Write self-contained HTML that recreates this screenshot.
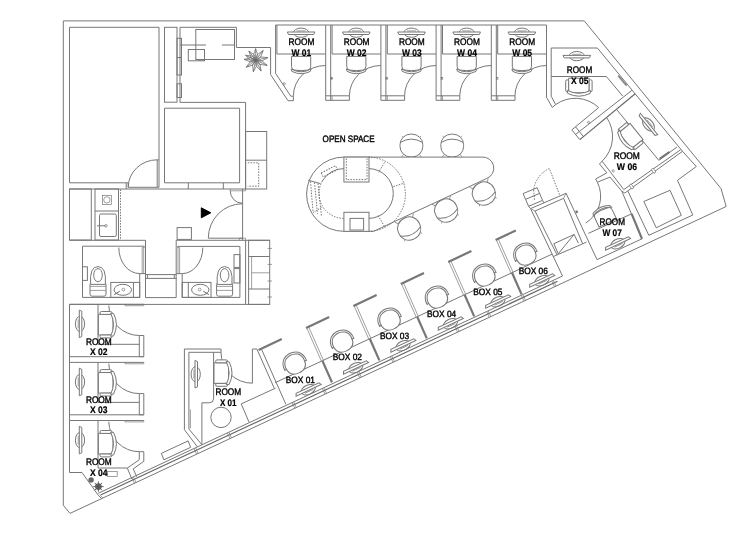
<!DOCTYPE html>
<html lang="en"><head><meta charset="utf-8"><title>Floor plan</title>
<style>
html,body{margin:0;padding:0;background:#fff}
body{width:747px;height:535px;overflow:hidden}
svg{display:block;filter:grayscale(1)}
svg *{vector-effect:none}
g#plan{fill:none;stroke:#777;stroke-width:1;stroke-linecap:butt;stroke-linejoin:miter}
.t{stroke-width:.7}
.w{fill:#fff}
.d{stroke:#666;stroke-dasharray:1.5 1.3;stroke-width:.9}
.k{fill:#000;stroke:#000}
.g{fill:#666;stroke:none}
.gs{stroke:#555;stroke-width:.9}
.pl{stroke:#6a6a6a;stroke-width:.7}
.mark{stroke:#888;stroke-width:1.8}
.bar{stroke:#777;stroke-width:2.2}
.thick{stroke:#777;stroke-width:2.2}
.mid{stroke:#666;stroke-width:1.15}
text{font-family:"Liberation Sans",sans-serif;fill:#000;stroke:#000;stroke-width:.4;text-rendering:geometricPrecision}
text.b{font-weight:bold;fill:#000;stroke:#000;stroke-width:.2}
</style></head><body>
<svg width="747" height="535" viewBox="0 0 747 535">
<rect x="0" y="0" width="747" height="535" fill="#fff" stroke="none"/>
<g id="plan">
<g id="shell">
<path d="M63.3,20.9 L584.3,20.9 L721,188.5 L726.2,206.5 L70,513.4 L63.3,505.2 Z"/>
</g>
<g id="left">
<path d="M128.2,182.8 H69.5 V27.3 H159 V187.3"/>
<line x1="157.2" y1="159.8" x2="157.2" y2="187.3"/>
<line x1="157.2" y1="159.8" x2="159" y2="159.8"/>
<path d="M157.2,159.8 A29,27.5 0 0 0 128.2,187.3"/>
<path d="M126.2,182.8 V189 M128.2,182.8 V187.3 H159"/>
<line x1="69.5" y1="189" x2="245.6" y2="189"/>
<rect x="164.5" y="27.3" width="12.5" height="74.9"/>
<path d="M180,27.3 V102.4 H245.6 V189"/>
<path d="M180,27.3 H236.4 V47.5 H270.6 V74.6 L288,100.7 H293.4"/>
<rect x="177" y="38.3" width="4.5" height="36.7"/>
<line x1="177" y1="57.5" x2="181.5" y2="57.5"/>
<rect x="177" y="83.8" width="4.5" height="13.7"/>
<path d="M164.5,108.2 H239.6 V182.8 H164.5 Z"/>
<line x1="188.3" y1="182.8" x2="188.3" y2="189"/>
<line x1="223.3" y1="182.8" x2="223.3" y2="189"/>
<rect x="195.8" y="29.5" width="38.7" height="30"/>
<path d="M180,45 H206 M222,45 H234.5"/>
<rect x="188.3" y="49.5" width="16.2" height="11.3"/>
<line x1="198" y1="60" x2="204" y2="60" class="t"/>
<rect x="245.6" y="131.5" width="21.1" height="57.5"/>
<line x1="245.6" y1="160.2" x2="266.7" y2="160.2"/>
<path d="M247.8,162.8 H258.7 V186.2 H247.8" class="d"/>
</g>
<g transform="translate(255.6,60.2)" class="pl">
<path transform="rotate(-90)" d="M0,0 L4.87,-2.2 L11.6,0 L4.87,2.2 Z M0,0 H11.6"/>
<path transform="rotate(-52)" d="M0,0 L5.17,-2.2 L12.3,0 L5.17,2.2 Z M0,0 H12.3"/>
<path transform="rotate(-12)" d="M0,0 L5.29,-2.2 L12.6,0 L5.29,2.2 Z M0,0 H12.6"/>
<path transform="rotate(24)" d="M0,0 L5.33,-2.2 L12.7,0 L5.33,2.2 Z M0,0 H12.7"/>
<path transform="rotate(63)" d="M0,0 L5.12,-2.2 L12.2,0 L5.12,2.2 Z M0,0 H12.2"/>
<path transform="rotate(101)" d="M0,0 L4.96,-2.2 L11.8,0 L4.96,2.2 Z M0,0 H11.8"/>
<path transform="rotate(143)" d="M0,0 L4.91,-2.2 L11.7,0 L4.91,2.2 Z M0,0 H11.7"/>
<path transform="rotate(184)" d="M0,0 L4.87,-2.2 L11.6,0 L4.87,2.2 Z M0,0 H11.6"/>
<path transform="rotate(-154)" d="M0,0 L4.7,-2.2 L11.2,0 L4.7,2.2 Z M0,0 H11.2"/>
<path transform="rotate(-126)" d="M0,0 L4.79,-2.2 L11.4,0 L4.79,2.2 Z M0,0 H11.4"/>
</g>
<g id="wrooms">
<line x1="275.6" y1="25" x2="546.5" y2="25"/>
<path d="M275.6,25 V73.4 L290.8,96.2 H293.4 V100.7"/>
<g transform="translate(283.6,84.2) rotate(56)"><rect x="-1" y="-1.6" width="2" height="1.6" class="t"/></g>
<path d="M276.9,25 V54 H325.7"/>
<path d="M325.7,65.5 A32.3,30.3 0 0 0 293.4,95.8"/>
<g transform="translate(301.1,64.8) rotate(0)">
<path d="M-9.6,-8.4 H9.6 V1.5 Q9.6,5 6.5,5.3 Q0,6.3 -6.5,5.3 Q-9.6,5 -9.6,1.5 Z" class="w"/>
<path d="M-10,4.2 Q0,9.8 10,4.2 L9.2,6.6 Q0,11.2 -9.2,6.6 Z" class="w"/>
</g>
<g transform="translate(301.1,32.9) rotate(0)">
<ellipse cx="0" cy="-0.2" rx="7.6" ry="4.6"/>
<path d="M-13.8,-0.9 L13.8,-0.9 L12.6,1.6 L-12.6,1.6 Z" class="w"/>
<path d="M-4.5,-2 H4.5" class="t"/>
</g>
<text x="288.5" y="45.2" font-size="9.5" textLength="25.8" lengthAdjust="spacingAndGlyphs">ROOM</text>
<text x="291.5" y="55.6" font-size="9.5" textLength="19.8" lengthAdjust="spacingAndGlyphs" class="b">W 01</text>
<path d="M325.7,25 V100.3 H349.4 V95.8 H325.7"/>
<line x1="330.7" y1="25" x2="330.7" y2="100.3"/>
<line x1="332.1" y1="95.8" x2="332.1" y2="100.3" class="t"/>
<rect x="330.7" y="77.4" width="1.6" height="1.8" class="t"/>
<path d="M332.1,25 V54 H380.9"/>
<path d="M380.9,65.5 A31.5,30.3 0 0 0 349.4,95.8"/>
<g transform="translate(356.3,64.8) rotate(0)">
<path d="M-9.6,-8.4 H9.6 V1.5 Q9.6,5 6.5,5.3 Q0,6.3 -6.5,5.3 Q-9.6,5 -9.6,1.5 Z" class="w"/>
<path d="M-10,4.2 Q0,9.8 10,4.2 L9.2,6.6 Q0,11.2 -9.2,6.6 Z" class="w"/>
</g>
<g transform="translate(356.3,32.9) rotate(0)">
<ellipse cx="0" cy="-0.2" rx="7.6" ry="4.6"/>
<path d="M-13.8,-0.9 L13.8,-0.9 L12.6,1.6 L-12.6,1.6 Z" class="w"/>
<path d="M-4.5,-2 H4.5" class="t"/>
</g>
<text x="343.7" y="45.2" font-size="9.5" textLength="25.8" lengthAdjust="spacingAndGlyphs">ROOM</text>
<text x="346.7" y="55.6" font-size="9.5" textLength="19.8" lengthAdjust="spacingAndGlyphs" class="b">W 02</text>
<path d="M380.9,25 V100.3 H404.6 V95.8 H380.9"/>
<line x1="385.9" y1="25" x2="385.9" y2="100.3"/>
<line x1="387.3" y1="95.8" x2="387.3" y2="100.3" class="t"/>
<rect x="385.9" y="77.4" width="1.6" height="1.8" class="t"/>
<path d="M387.3,25 V54 H436.1"/>
<path d="M436.1,65.5 A31.5,30.3 0 0 0 404.6,95.8"/>
<g transform="translate(411.5,64.8) rotate(0)">
<path d="M-9.6,-8.4 H9.6 V1.5 Q9.6,5 6.5,5.3 Q0,6.3 -6.5,5.3 Q-9.6,5 -9.6,1.5 Z" class="w"/>
<path d="M-10,4.2 Q0,9.8 10,4.2 L9.2,6.6 Q0,11.2 -9.2,6.6 Z" class="w"/>
</g>
<g transform="translate(411.5,32.9) rotate(0)">
<ellipse cx="0" cy="-0.2" rx="7.6" ry="4.6"/>
<path d="M-13.8,-0.9 L13.8,-0.9 L12.6,1.6 L-12.6,1.6 Z" class="w"/>
<path d="M-4.5,-2 H4.5" class="t"/>
</g>
<text x="398.9" y="45.2" font-size="9.5" textLength="25.8" lengthAdjust="spacingAndGlyphs">ROOM</text>
<text x="401.9" y="55.6" font-size="9.5" textLength="19.8" lengthAdjust="spacingAndGlyphs" class="b">W 03</text>
<path d="M436.1,25 V100.3 H459.8 V95.8 H436.1"/>
<line x1="441.1" y1="25" x2="441.1" y2="100.3"/>
<line x1="442.5" y1="95.8" x2="442.5" y2="100.3" class="t"/>
<rect x="441.1" y="77.4" width="1.6" height="1.8" class="t"/>
<path d="M442.5,25 V54 H491.3"/>
<path d="M491.3,65.5 A31.5,30.3 0 0 0 459.8,95.8"/>
<g transform="translate(466.7,64.8) rotate(0)">
<path d="M-9.6,-8.4 H9.6 V1.5 Q9.6,5 6.5,5.3 Q0,6.3 -6.5,5.3 Q-9.6,5 -9.6,1.5 Z" class="w"/>
<path d="M-10,4.2 Q0,9.8 10,4.2 L9.2,6.6 Q0,11.2 -9.2,6.6 Z" class="w"/>
</g>
<g transform="translate(466.7,32.9) rotate(0)">
<ellipse cx="0" cy="-0.2" rx="7.6" ry="4.6"/>
<path d="M-13.8,-0.9 L13.8,-0.9 L12.6,1.6 L-12.6,1.6 Z" class="w"/>
<path d="M-4.5,-2 H4.5" class="t"/>
</g>
<text x="454.1" y="45.2" font-size="9.5" textLength="25.8" lengthAdjust="spacingAndGlyphs">ROOM</text>
<text x="457.1" y="55.6" font-size="9.5" textLength="19.8" lengthAdjust="spacingAndGlyphs" class="b">W 04</text>
<path d="M491.3,25 V100.3 H515 V95.8 H491.3"/>
<line x1="496.3" y1="25" x2="496.3" y2="100.3"/>
<line x1="497.7" y1="95.8" x2="497.7" y2="100.3" class="t"/>
<rect x="496.3" y="77.4" width="1.6" height="1.8" class="t"/>
<path d="M497.7,25 V54 H546.5"/>
<path d="M546.5,65.5 A31.5,30.3 0 0 0 515,95.8"/>
<g transform="translate(521.9,64.8) rotate(0)">
<path d="M-9.6,-8.4 H9.6 V1.5 Q9.6,5 6.5,5.3 Q0,6.3 -6.5,5.3 Q-9.6,5 -9.6,1.5 Z" class="w"/>
<path d="M-10,4.2 Q0,9.8 10,4.2 L9.2,6.6 Q0,11.2 -9.2,6.6 Z" class="w"/>
</g>
<g transform="translate(521.9,32.9) rotate(0)">
<ellipse cx="0" cy="-0.2" rx="7.6" ry="4.6"/>
<path d="M-13.8,-0.9 L13.8,-0.9 L12.6,1.6 L-12.6,1.6 Z" class="w"/>
<path d="M-4.5,-2 H4.5" class="t"/>
</g>
<text x="509.3" y="45.2" font-size="9.5" textLength="25.8" lengthAdjust="spacingAndGlyphs">ROOM</text>
<text x="512.3" y="55.6" font-size="9.5" textLength="19.8" lengthAdjust="spacingAndGlyphs" class="b">W 05</text>
<line x1="546.5" y1="25" x2="546.5" y2="97.3"/>
</g>
<g id="wet">
<rect x="69.5" y="189" width="21.8" height="51"/>
<rect x="95" y="189" width="23.5" height="51"/>
<line x1="95" y1="211" x2="118.5" y2="211"/>
<rect x="102.5" y="195.3" width="8.8" height="9.2" class="t"/>
<circle cx="106.9" cy="199.9" r="3.2" class="t"/>
<rect x="99.5" y="214" width="16.8" height="22.5" rx="1.5"/>
<path d="M97,225.8 H105.5"/>
<circle cx="106" cy="225.8" r="1.3" class="t"/>
<line x1="120.5" y1="189.5" x2="120.5" y2="240" class="d"/>
<path d="M69.5,240.3 H145.5 V297.6"/>
<path d="M144.3,246.2 H82.5 V297.4 H139.7 V273.6 H145.5"/>
<path d="M118.8,247.6 A20.9,26 0 0 0 139.7,273.6"/>
<path d="M144.3,246.2 V247.6 H142.2 V273.6 M143.7,247.6 V273.6" class="t"/>
<rect x="82.5" y="266.8" width="4.9" height="13.6"/>
<rect x="90" y="282.6" width="16" height="13.6" class="w" rx="2"/>
<line x1="90" y1="286.4" x2="106" y2="286.4" class="t"/>
<line x1="90" y1="290.4" x2="106" y2="290.4" class="t"/>
<path d="M90.6,284.4 Q89.4,266.4 98,266.6 Q106.6,266.4 105.4,284.4 Z" class="w"/>
<ellipse cx="98" cy="275.2" rx="4.3" ry="6.6"/>
<rect x="110.8" y="282.4" width="28.9" height="15"/>
<line x1="133.4" y1="282.4" x2="133.4" y2="297.4"/>
<ellipse cx="122.8" cy="289.8" rx="8.7" ry="5.5"/>
<circle cx="123.4" cy="289.6" r="1.4" class="t"/>
<path d="M119.8,291.2 L114.2,294.6" class="gs"/>
<path d="M145.5,274.6 H176.2 M145.5,278.4 H176.2 M145.5,297.6 H176.2 M147.4,274.6 V278.4 M174.3,274.6 V278.4"/>
<path d="M176.2,297.6 V240.3 H269.7"/>
<path d="M177.4,246.4 H239.9 V297.4 H182.2 V273.6 H176.2"/>
<path d="M202.8,247.6 A20.6,26 0 0 1 182.2,273.6"/>
<path d="M177.4,246.4 V247.6 H179.6 V273.6 M178,247.6 V273.6" class="t"/>
<rect x="234" y="254.6" width="5.9" height="12.8"/>
<rect x="234" y="268.6" width="5.9" height="14.4"/>
<rect x="216.6" y="282.6" width="16" height="13.6" class="w" rx="2"/>
<line x1="216.6" y1="286.4" x2="232.6" y2="286.4" class="t"/>
<line x1="216.6" y1="290.4" x2="232.6" y2="290.4" class="t"/>
<path d="M217.2,284.4 Q216,266.4 224.6,266.6 Q233.2,266.4 232,284.4 Z" class="w"/>
<ellipse cx="224.6" cy="275.2" rx="4.3" ry="6.6"/>
<rect x="182.2" y="282.4" width="28.8" height="15"/>
<line x1="188.3" y1="282.4" x2="188.3" y2="297.4"/>
<ellipse cx="200.25" cy="289.8" rx="8.7" ry="5.5"/>
<circle cx="199.65" cy="289.6" r="1.4" class="t"/>
<path d="M203.25,291.2 L208.85,294.6" class="gs"/>
<line x1="245.6" y1="240.3" x2="245.6" y2="304.4"/>
<line x1="69.5" y1="304.4" x2="269.7" y2="304.4"/>
<rect x="248.6" y="240.3" width="21.1" height="64.1"/>
<line x1="248.6" y1="256.5" x2="269.7" y2="256.5"/>
<line x1="248.6" y1="289" x2="269.7" y2="289"/>
<line x1="251.6" y1="272.8" x2="269.7" y2="272.8" class="t"/>
<line x1="251.6" y1="256.5" x2="251.6" y2="289" class="t"/>
<line x1="267.5" y1="248.4" x2="272" y2="248.4" class="t"/>
<line x1="267.5" y1="264.4" x2="272" y2="264.4" class="t"/>
<line x1="267.5" y1="281" x2="272" y2="281" class="t"/>
<line x1="267.5" y1="297" x2="272" y2="297" class="t"/>
<rect x="177.1" y="227.6" width="14.3" height="11.8"/>
<line x1="242.6" y1="189" x2="242.6" y2="240.3"/>
<path d="M242.2,203.8 A33.9,34.4 0 0 0 208.3,238.2 H242.6"/>
<path d="M230.2,190.8 A12,12.4 0 0 0 242.2,203.2"/>
<path d="M230.2,189 V190.8 H245.6 V189" class="t"/>
<path d="M239.4,240.3 V238.2 H245.6 V240.3" class="t"/>
<path d="M201.3,207.8 L210.8,212.8 L201.3,217.8 Z" class="k"/>
</g>
<g id="xrooms">
<line x1="69.5" y1="304.3" x2="69.5" y2="420.5"/>
<line x1="69.5" y1="304.3" x2="143.8" y2="304.3"/>
<line x1="98" y1="304.3" x2="98" y2="344.3"/>
<line x1="98" y1="344.3" x2="139.3" y2="344.3"/>
<path d="M139.3,335.5 V356.7 H143.8 V356.7 H69.5"/>
<line x1="139.3" y1="335.5" x2="143.8" y2="335.5"/>
<line x1="143.8" y1="335.5" x2="143.8" y2="356.7"/>
<path d="M108.8,305.5 A30.5,30.5 0 0 0 139.3,335.5"/>
<path d="M125,304.3 V305.7 H143.8 V304.3" class="t"/>
<g transform="translate(106,324.7) rotate(-90)">
<path d="M-10.3,-7.6 H10.3 V3 Q10.3,7 6,7 H-6 Q-10.3,7 -10.3,3 Z" class="w"/>
<rect x="-13.2" y="-6" width="2.9" height="12" rx="1.4" class="w"/>
<rect x="10.3" y="-6" width="2.9" height="12" rx="1.4" class="w"/>
<path d="M-11.6,4.6 Q0,10.4 11.6,4.6 L11.2,7.6 Q0,13.2 -11.2,7.6 Z" class="w"/>
</g>
<g transform="translate(80.2,323.9) rotate(-90)">
<ellipse cx="0" cy="-0.2" rx="7.6" ry="4.6"/>
<path d="M-13.8,-0.9 L13.8,-0.9 L12.6,1.6 L-12.6,1.6 Z" class="w"/>
<path d="M-4.5,-2 H4.5" class="t"/>
</g>
<text x="85.9" y="344.9" font-size="9.5" textLength="25.8" lengthAdjust="spacingAndGlyphs">ROOM</text>
<text x="90" y="355.3" font-size="9.5" textLength="17.6" lengthAdjust="spacingAndGlyphs" class="b">X 02</text>
<line x1="69.5" y1="362.4" x2="143.8" y2="362.4"/>
<line x1="98" y1="362.4" x2="98" y2="402.4"/>
<line x1="98" y1="402.4" x2="139.3" y2="402.4"/>
<path d="M139.3,393.6 V414.8 H143.8 V414.8 H69.5"/>
<line x1="139.3" y1="393.6" x2="143.8" y2="393.6"/>
<line x1="143.8" y1="393.6" x2="143.8" y2="414.8"/>
<path d="M108.8,363.6 A30.5,30.5 0 0 0 139.3,393.6"/>
<path d="M125,362.4 V363.8 H143.8 V362.4" class="t"/>
<g transform="translate(106,382.8) rotate(-90)">
<path d="M-10.3,-7.6 H10.3 V3 Q10.3,7 6,7 H-6 Q-10.3,7 -10.3,3 Z" class="w"/>
<rect x="-13.2" y="-6" width="2.9" height="12" rx="1.4" class="w"/>
<rect x="10.3" y="-6" width="2.9" height="12" rx="1.4" class="w"/>
<path d="M-11.6,4.6 Q0,10.4 11.6,4.6 L11.2,7.6 Q0,13.2 -11.2,7.6 Z" class="w"/>
</g>
<g transform="translate(80.2,382) rotate(-90)">
<ellipse cx="0" cy="-0.2" rx="7.6" ry="4.6"/>
<path d="M-13.8,-0.9 L13.8,-0.9 L12.6,1.6 L-12.6,1.6 Z" class="w"/>
<path d="M-4.5,-2 H4.5" class="t"/>
</g>
<text x="85.9" y="403" font-size="9.5" textLength="25.8" lengthAdjust="spacingAndGlyphs">ROOM</text>
<text x="90" y="413.4" font-size="9.5" textLength="17.6" lengthAdjust="spacingAndGlyphs" class="b">X 03</text>
<line x1="69.5" y1="420.5" x2="143.8" y2="420.5"/>
<path d="M98,420.5 V468 H127.3"/>
<path d="M108.8,421.7 A30.5,30.5 0 0 0 139.3,451.7"/>
<path d="M125,420.5 V421.9 H143.8 V420.5" class="t"/>
<g transform="translate(106,443.7) rotate(-90)">
<path d="M-10.3,-7.6 H10.3 V3 Q10.3,7 6,7 H-6 Q-10.3,7 -10.3,3 Z" class="w"/>
<rect x="-13.2" y="-6" width="2.9" height="12" rx="1.4" class="w"/>
<rect x="10.3" y="-6" width="2.9" height="12" rx="1.4" class="w"/>
<path d="M-11.6,4.6 Q0,10.4 11.6,4.6 L11.2,7.6 Q0,13.2 -11.2,7.6 Z" class="w"/>
</g>
<g transform="translate(80.2,440.1) rotate(-90)">
<ellipse cx="0" cy="-0.2" rx="7.6" ry="4.6"/>
<path d="M-13.8,-0.9 L13.8,-0.9 L12.6,1.6 L-12.6,1.6 Z" class="w"/>
<path d="M-4.5,-2 H4.5" class="t"/>
</g>
<text x="85.9" y="465.3" font-size="9.5" textLength="25.8" lengthAdjust="spacingAndGlyphs">ROOM</text>
<text x="90" y="475.7" font-size="9.5" textLength="17.6" lengthAdjust="spacingAndGlyphs" class="b">X 04</text>
<path d="M69.5,420.5 V472.5 H82 L98.3,495.3"/>
<path d="M139.3,451.7 H143.8 V461.3 L133.2,468.9 L136.8,476.76"/>
<path d="M139.3,451.7 V459.7 L127.3,468.1 L131.9,479.05"/>
<rect x="107.6" y="471.4" width="9.6" height="5" class="t"/>
<circle cx="91.1" cy="479.9" r="2.7" class="g"/>
<circle cx="98.4" cy="486.6" r="3.4" class="g"/>
<path d="M98.4,481.4 V491.8 M93.2,486.6 H103.6 M94.7,482.9 L102.1,490.3 M94.7,490.3 L102.1,482.9" class="gs"/>
</g>
<g id="diag">
<path d="M100.6,495.04 L557.5,281.35" class="mid"/>
<path d="M98.3,493.26 L262,416.7"/>
<path d="M98.3,495.3 L101.6,498.62"/>
<path d="M99.6,494.7 L102.9,498.01" class="t"/>
<line x1="134.5" y1="483.23" x2="131.87" y2="477.62" class="t"/>
<line x1="136.04" y1="482.51" x2="133.41" y2="476.9" class="t"/>
<line x1="196.6" y1="454.19" x2="193.97" y2="448.57" class="t"/>
<line x1="198.14" y1="453.47" x2="195.51" y2="447.85" class="t"/>
<line x1="230" y1="438.57" x2="227.37" y2="432.95" class="t"/>
<line x1="231.54" y1="437.85" x2="228.91" y2="432.23" class="t"/>
<line x1="294.8" y1="408.26" x2="292.17" y2="402.65" class="t"/>
<line x1="296.34" y1="407.54" x2="293.71" y2="401.93" class="t"/>
<line x1="325" y1="394.14" x2="322.37" y2="388.52" class="t"/>
<line x1="326.54" y1="393.42" x2="323.91" y2="387.8" class="t"/>
<line x1="359.8" y1="377.86" x2="357.17" y2="372.25" class="t"/>
<line x1="361.34" y1="377.14" x2="358.71" y2="371.53" class="t"/>
<line x1="393" y1="362.34" x2="390.37" y2="356.72" class="t"/>
<line x1="394.54" y1="361.62" x2="391.91" y2="356" class="t"/>
<line x1="457.6" y1="332.12" x2="454.97" y2="326.51" class="t"/>
<line x1="459.14" y1="331.4" x2="456.51" y2="325.79" class="t"/>
<line x1="489.3" y1="317.3" x2="486.67" y2="311.68" class="t"/>
<line x1="490.84" y1="316.58" x2="488.21" y2="310.96" class="t"/>
<line x1="524" y1="301.07" x2="521.37" y2="295.45" class="t"/>
<line x1="525.54" y1="300.35" x2="522.91" y2="294.73" class="t"/>
<line x1="554.5" y1="286.8" x2="551.87" y2="281.19" class="t"/>
<line x1="556.04" y1="286.08" x2="553.41" y2="280.47" class="t"/>
<path d="M163.9,459.8 L161.3,453.4 L188.1,440.9 L190.7,447.3 Z"/>
</g>
<g id="boxes">
<path d="M262,416.7 L562.5,276"/>
<path d="M258.6,349.9 L281.8,339.1" class="bar"/>
<line x1="256.9" y1="349" x2="274.22" y2="388.19"/>
<line x1="261.4" y1="349" x2="285.8" y2="404.2"/>
<line x1="275.01" y1="382.71" x2="322.41" y2="360.71"/>
<g transform="translate(294.6,363.1) rotate(-25.07)">
<path d="M-10.2,1 Q-10,10.8 0,10.8 Q10,10.8 10.2,1" class="w"/>
<path d="M-11.9,2.6 Q-12.4,-4 -8,-8.2 Q0,-13.4 8,-8.2 Q12.4,-4 11.9,2.6 L10.1,2.2 Q10.4,-3.4 6.8,-6.8 Q0,-11.2 -6.8,-6.8 Q-10.4,-3.4 -10.1,2.2 Z" class="w"/>
</g>
<g transform="translate(308.2,389.5) rotate(154.93)">
<ellipse cx="0" cy="-0.2" rx="7.6" ry="4.6"/>
<path d="M-13.8,-0.9 L13.8,-0.9 L12.6,1.6 L-12.6,1.6 Z" class="w"/>
<path d="M-4.5,-2 H4.5" class="t"/>
</g>
<text x="285.8" y="383" font-size="9.1" textLength="29.2" lengthAdjust="spacingAndGlyphs">BOX 01</text>
<path d="M306,327.9 L329.2,317.1" class="bar"/>
<line x1="306.6" y1="327.67" x2="321.41" y2="361.17" class="t"/>
<line x1="308.6" y1="326.73" x2="323.41" y2="360.24" class="t"/>
<path d="M322.41,360.71 L332,382.4" class="thick"/>
<line x1="322.41" y1="360.71" x2="369.81" y2="338.71"/>
<g transform="translate(342,341.1) rotate(-25.07)">
<path d="M-10.2,1 Q-10,10.8 0,10.8 Q10,10.8 10.2,1" class="w"/>
<path d="M-11.9,2.6 Q-12.4,-4 -8,-8.2 Q0,-13.4 8,-8.2 Q12.4,-4 11.9,2.6 L10.1,2.2 Q10.4,-3.4 6.8,-6.8 Q0,-11.2 -6.8,-6.8 Q-10.4,-3.4 -10.1,2.2 Z" class="w"/>
</g>
<g transform="translate(355.6,367.5) rotate(154.93)">
<ellipse cx="0" cy="-0.2" rx="7.6" ry="4.6"/>
<path d="M-13.8,-0.9 L13.8,-0.9 L12.6,1.6 L-12.6,1.6 Z" class="w"/>
<path d="M-4.5,-2 H4.5" class="t"/>
</g>
<text x="332.8" y="359.8" font-size="9.1" textLength="29.2" lengthAdjust="spacingAndGlyphs">BOX 02</text>
<path d="M353.4,305.9 L376.6,295.1" class="bar"/>
<line x1="354" y1="305.67" x2="368.81" y2="339.17" class="t"/>
<line x1="356" y1="304.73" x2="370.81" y2="338.24" class="t"/>
<path d="M369.81,338.71 L379.4,360.4" class="thick"/>
<line x1="369.81" y1="338.71" x2="417.21" y2="316.71"/>
<g transform="translate(389.4,319.1) rotate(-25.07)">
<path d="M-10.2,1 Q-10,10.8 0,10.8 Q10,10.8 10.2,1" class="w"/>
<path d="M-11.9,2.6 Q-12.4,-4 -8,-8.2 Q0,-13.4 8,-8.2 Q12.4,-4 11.9,2.6 L10.1,2.2 Q10.4,-3.4 6.8,-6.8 Q0,-11.2 -6.8,-6.8 Q-10.4,-3.4 -10.1,2.2 Z" class="w"/>
</g>
<g transform="translate(403,345.5) rotate(154.93)">
<ellipse cx="0" cy="-0.2" rx="7.6" ry="4.6"/>
<path d="M-13.8,-0.9 L13.8,-0.9 L12.6,1.6 L-12.6,1.6 Z" class="w"/>
<path d="M-4.5,-2 H4.5" class="t"/>
</g>
<text x="379.9" y="338.6" font-size="9.1" textLength="29.2" lengthAdjust="spacingAndGlyphs">BOX 03</text>
<path d="M400.8,283.9 L424,273.1" class="bar"/>
<line x1="401.4" y1="283.67" x2="416.21" y2="317.17" class="t"/>
<line x1="403.4" y1="282.73" x2="418.21" y2="316.24" class="t"/>
<path d="M417.21,316.71 L426.8,338.4" class="thick"/>
<line x1="417.21" y1="316.71" x2="464.61" y2="294.71"/>
<g transform="translate(436.8,297.1) rotate(-25.07)">
<path d="M-10.2,1 Q-10,10.8 0,10.8 Q10,10.8 10.2,1" class="w"/>
<path d="M-11.9,2.6 Q-12.4,-4 -8,-8.2 Q0,-13.4 8,-8.2 Q12.4,-4 11.9,2.6 L10.1,2.2 Q10.4,-3.4 6.8,-6.8 Q0,-11.2 -6.8,-6.8 Q-10.4,-3.4 -10.1,2.2 Z" class="w"/>
</g>
<g transform="translate(450.4,323.5) rotate(154.93)">
<ellipse cx="0" cy="-0.2" rx="7.6" ry="4.6"/>
<path d="M-13.8,-0.9 L13.8,-0.9 L12.6,1.6 L-12.6,1.6 Z" class="w"/>
<path d="M-4.5,-2 H4.5" class="t"/>
</g>
<text x="427" y="316.8" font-size="9.1" textLength="29.2" lengthAdjust="spacingAndGlyphs">BOX 04</text>
<path d="M448.2,261.9 L471.4,251.1" class="bar"/>
<line x1="448.8" y1="261.67" x2="463.61" y2="295.17" class="t"/>
<line x1="450.8" y1="260.73" x2="465.61" y2="294.24" class="t"/>
<path d="M464.61,294.71 L474.2,316.4" class="thick"/>
<line x1="464.61" y1="294.71" x2="512.01" y2="272.71"/>
<g transform="translate(484.2,275.1) rotate(-25.07)">
<path d="M-10.2,1 Q-10,10.8 0,10.8 Q10,10.8 10.2,1" class="w"/>
<path d="M-11.9,2.6 Q-12.4,-4 -8,-8.2 Q0,-13.4 8,-8.2 Q12.4,-4 11.9,2.6 L10.1,2.2 Q10.4,-3.4 6.8,-6.8 Q0,-11.2 -6.8,-6.8 Q-10.4,-3.4 -10.1,2.2 Z" class="w"/>
</g>
<g transform="translate(497.8,301.5) rotate(154.93)">
<ellipse cx="0" cy="-0.2" rx="7.6" ry="4.6"/>
<path d="M-13.8,-0.9 L13.8,-0.9 L12.6,1.6 L-12.6,1.6 Z" class="w"/>
<path d="M-4.5,-2 H4.5" class="t"/>
</g>
<text x="473.3" y="295" font-size="9.1" textLength="29.2" lengthAdjust="spacingAndGlyphs">BOX 05</text>
<path d="M495.6,239.9 L515.8,230.5" class="bar"/>
<line x1="496.2" y1="239.67" x2="511.01" y2="273.17" class="t"/>
<line x1="498.2" y1="238.73" x2="513.01" y2="272.24" class="t"/>
<path d="M512.01,272.71 L521.6,294.4" class="thick"/>
<line x1="512.01" y1="272.71" x2="552.16" y2="254.07"/>
<g transform="translate(525.2,254.1) rotate(-25.07)">
<path d="M-10.2,1 Q-10,10.8 0,10.8 Q10,10.8 10.2,1" class="w"/>
<path d="M-11.9,2.6 Q-12.4,-4 -8,-8.2 Q0,-13.4 8,-8.2 Q12.4,-4 11.9,2.6 L10.1,2.2 Q10.4,-3.4 6.8,-6.8 Q0,-11.2 -6.8,-6.8 Q-10.4,-3.4 -10.1,2.2 Z" class="w"/>
</g>
<g transform="translate(541.8,280.5) rotate(154.93)">
<ellipse cx="0" cy="-0.2" rx="7.6" ry="4.6"/>
<path d="M-13.8,-0.9 L13.8,-0.9 L12.6,1.6 L-12.6,1.6 Z" class="w"/>
<path d="M-4.5,-2 H4.5" class="t"/>
</g>
<text x="518.7" y="273.6" font-size="9.1" textLength="29.2" lengthAdjust="spacingAndGlyphs">BOX 06</text>
</g>
<g id="reception">
<text x="322.6" y="142.1" font-size="9.3" textLength="52" lengthAdjust="spacingAndGlyphs">OPEN SPACE</text>
<g transform="translate(411.4,145.5) rotate(0)">
<path d="M-7.6,8.6 L-10.2,11.8 M7.6,8.6 L10.2,11.8 M-8.4,-8.2 L-9.6,-9.6 M8.4,-8.2 L9.6,-9.6" class="t"/>
<rect x="-11.4" y="-11.4" width="22.8" height="22.9" rx="10.8" ry="10.6" class="w"/>
<path d="M-10.8,-3.2 Q0,-9.6 10.8,-3.2" />
</g>
<g transform="translate(452.2,145.5) rotate(0)">
<path d="M-7.6,8.6 L-10.2,11.8 M7.6,8.6 L10.2,11.8 M-8.4,-8.2 L-9.6,-9.6 M8.4,-8.2 L9.6,-9.6" class="t"/>
<rect x="-11.4" y="-11.4" width="22.8" height="22.9" rx="10.8" ry="10.6" class="w"/>
<path d="M-10.8,-3.2 Q0,-9.6 10.8,-3.2" />
</g>
<g transform="translate(409.2,228.6) rotate(154.93)">
<path d="M-7.6,8.6 L-10.2,11.8 M7.6,8.6 L10.2,11.8 M-8.4,-8.2 L-9.6,-9.6 M8.4,-8.2 L9.6,-9.6" class="t"/>
<rect x="-11.4" y="-11.4" width="22.8" height="22.9" rx="10.8" ry="10.6" class="w"/>
<path d="M-10.8,-3.2 Q0,-9.6 10.8,-3.2" />
</g>
<g transform="translate(446.2,210.6) rotate(154.93)">
<path d="M-7.6,8.6 L-10.2,11.8 M7.6,8.6 L10.2,11.8 M-8.4,-8.2 L-9.6,-9.6 M8.4,-8.2 L9.6,-9.6" class="t"/>
<rect x="-11.4" y="-11.4" width="22.8" height="22.9" rx="10.8" ry="10.6" class="w"/>
<path d="M-10.8,-3.2 Q0,-9.6 10.8,-3.2" />
</g>
<g transform="translate(483.9,193.6) rotate(154.93)">
<path d="M-7.6,8.6 L-10.2,11.8 M7.6,8.6 L10.2,11.8 M-8.4,-8.2 L-9.6,-9.6 M8.4,-8.2 L9.6,-9.6" class="t"/>
<rect x="-11.4" y="-11.4" width="22.8" height="22.9" rx="10.8" ry="10.6" class="w"/>
<path d="M-10.8,-3.2 Q0,-9.6 10.8,-3.2" />
</g>
<path d="M343.7,231.3 A37.1,37.1 0 0 1 343.7,157.1 H481.6 A11.1,11.1 0 0 1 486.3,178.65 L373.7,231.3 Z" class="w"/>
<path d="M368.3,157.1 A37.1,37.1 0 0 1 368.3,231.3" class="d"/>
<path d="M369,168.6 H368.4 A24.9,24.9 0 0 1 368.4,218.4 H369"/>
<path d="M344,168.6 A24.9,24.9 0 0 0 322.3,181"/>
<path d="M322.3,181 A24.9,24.9 0 0 0 344,218.4" class="d"/>
<rect x="343.9" y="157.1" width="25.1" height="24.9" class="w"/>
<path d="M346.3,158.5 V179.6 H367 V158.5" class="d"/>
<rect x="343.9" y="212.3" width="25.1" height="19" class="w"/>
<rect x="350" y="218.4" width="13.6" height="11.6"/>
<line x1="308.2" y1="180.2" x2="320.4" y2="183.6"/>
<path d="M310.5,181.5 L313,211 M314.5,182.5 L317.5,214 M318,183.4 L321.5,216.5" class="d"/>
<line x1="313" y1="212.5" x2="322.5" y2="207" class="d"/>
<path d="M384.5,162.5 L378.5,172.5 M393.4,186.6 L404.5,183 M378,215.5 L384.5,226.5" class="d"/>
<g transform="translate(329.3,171.3) rotate(-27)"><rect x="-8" y="-2.2" width="16" height="4.4" class="d"/></g>
</g>
<g id="x01">
<path d="M252.4,383.2 V349 H256.9"/>
<path d="M221,352.3 V349 H184.4 V429.7 L197.4,446.92"/>
<path d="M221,352.3 H188.9 V429 L201.9,444.81"/>
<path d="M221,352.3 A31.4,30.9 0 0 0 252.4,383.2"/>
<line x1="190.4" y1="409.5" x2="190.4" y2="428.4" class="t"/>
<path d="M213.6,352.3 V398.8 Q213.4,402.8 209.4,402.8 H201.9 V444.81"/>
<g transform="translate(195.9,374.2) rotate(-90)">
<ellipse cx="0" cy="-0.2" rx="7.6" ry="4.6"/>
<path d="M-13.8,-0.9 L13.8,-0.9 L12.6,1.6 L-12.6,1.6 Z" class="w"/>
<path d="M-4.5,-2 H4.5" class="t"/>
</g>
<g transform="translate(221.6,373.1) rotate(-90)">
<path d="M-10.3,-7.6 H10.3 V3 Q10.3,7 6,7 H-6 Q-10.3,7 -10.3,3 Z" class="w"/>
<rect x="-13.2" y="-6" width="2.9" height="12" rx="1.4" class="w"/>
<rect x="10.3" y="-6" width="2.9" height="12" rx="1.4" class="w"/>
<path d="M-11.6,4.6 Q0,10.4 11.6,4.6 L11.2,7.6 Q0,13.2 -11.2,7.6 Z" class="w"/>
</g>
<circle cx="221" cy="417.4" r="10.2"/>
<path d="M275.5,388.2 L241.2,403.9 L249,422"/>
<text x="215.4" y="395.4" font-size="9.5" textLength="25.8" lengthAdjust="spacingAndGlyphs">ROOM</text>
<text x="220" y="405.8" font-size="9.5" textLength="16.6" lengthAdjust="spacingAndGlyphs" class="b">X 01</text>
</g>
<g id="store">
<path d="M562.5,276 L530.6,208.6 L566.1,193.3 L597,259.6"/>
<path d="M557.1,255 L535,211 L563.6,198.3 L582.6,243.6"/>
<line x1="535" y1="211" x2="530.6" y2="208.6" class="t"/>
<line x1="566.1" y1="193.3" x2="563.6" y2="198.3" class="t"/>
<line x1="553.2" y1="256.6" x2="586.4" y2="242.2"/>
<path d="M558.2,253.8 L553.9,243.7 L574.1,234.5 L578.4,243.2"/>
<line x1="558.2" y1="253.8" x2="574.1" y2="234.5"/>
<path d="M523.1,193.6 L537.1,187.7 L542.6,200.4 L528.6,206.3 Z"/>
<line x1="525.9" y1="199.2" x2="539.9" y2="193.3"/>
<line x1="528.6" y1="206.3" x2="530.6" y2="208.6"/>
<line x1="542.6" y1="200.4" x2="544" y2="203"/>
<path d="M559.5,194.6 L549.3,168.4 A28,28 0 0 0 533.6,190" class="d"/>
<line x1="533.6" y1="190" x2="534.6" y2="200" class="d"/>
<line x1="576.2" y1="210.6" x2="577.2" y2="213" class="thick"/>
</g>
<g id="right">
<path d="M546.5,97.3 L552.3,107.4 L555.6,104.6"/>
<path d="M551.2,48 V96.2 L555.6,104.6"/>
<path d="M551.2,48 H597.4 L682.5,151.3"/>
<path d="M551.2,76.5 H606.4 L622.6,96"/>
<g transform="translate(576.8,56.3) rotate(0)">
<ellipse cx="0" cy="-0.2" rx="7.6" ry="4.6"/>
<path d="M-13.8,-0.9 L13.8,-0.9 L12.6,1.6 L-12.6,1.6 Z" class="w"/>
<path d="M-4.5,-2 H4.5" class="t"/>
</g>
<g transform="translate(578.9,85.8) rotate(0)">
<path d="M-10.3,-7.6 H10.3 V3 Q10.3,7 6,7 H-6 Q-10.3,7 -10.3,3 Z" class="w"/>
<rect x="-13.2" y="-6" width="2.9" height="12" rx="1.4" class="w"/>
<rect x="10.3" y="-6" width="2.9" height="12" rx="1.4" class="w"/>
<path d="M-11.6,4.6 Q0,10.4 11.6,4.6 L11.2,7.6 Q0,13.2 -11.2,7.6 Z" class="w"/>
</g>
<text x="566.8" y="73" font-size="9.5" textLength="25.4" lengthAdjust="spacingAndGlyphs">ROOM</text>
<text x="570.9" y="84.3" font-size="9.5" textLength="17.5" lengthAdjust="spacingAndGlyphs" class="b">X 05</text>
<path d="M555.6,104.6 A34,34 0 0 1 598.7,107.6 L571.8,129.9"/>
<path d="M571.8,129.9 L579.8,139.6 M575.6,126.9 L583.4,136.6"/>
<path d="M575.5,134.5 L631.9,90.4"/>
<path d="M579.8,139.6 L635.2,93.7" class="mid"/>
<g transform="translate(589,122.9) rotate(-39)"><rect x="-1" y="-1.6" width="2" height="1.6" class="t"/></g>
<path d="M618.2,75.6 L626.6,85.6" class="mark"/>
<path d="M617,110 L658.8,160.3 L677,147"/>
<g transform="translate(648.3,124.6) rotate(51)">
<ellipse cx="0" cy="-0.2" rx="7.6" ry="4.6"/>
<path d="M-13.8,-0.9 L13.8,-0.9 L12.6,1.6 L-12.6,1.6 Z" class="w"/>
<path d="M-4.5,-2 H4.5" class="t"/>
</g>
<g transform="translate(630.6,136.2) rotate(51)">
<path d="M-10.3,-7.6 H10.3 V3 Q10.3,7 6,7 H-6 Q-10.3,7 -10.3,3 Z" class="w"/>
<rect x="-13.2" y="-6" width="2.9" height="12" rx="1.4" class="w"/>
<rect x="10.3" y="-6" width="2.9" height="12" rx="1.4" class="w"/>
<path d="M-11.6,4.6 Q0,10.4 11.6,4.6 L11.2,7.6 Q0,13.2 -11.2,7.6 Z" class="w"/>
</g>
<text x="613.7" y="159" font-size="9.5" textLength="26.2" lengthAdjust="spacingAndGlyphs">ROOM</text>
<text x="616.8" y="169.7" font-size="9.5" textLength="20.3" lengthAdjust="spacingAndGlyphs" class="b">W 06</text>
<path d="M606.6,117.4 A34,34 0 0 1 602.1,161.2"/>
<path d="M602.1,161.2 L623.8,189.6"/>
<path d="M602.1,161.2 L599.5,164 L606.8,172.9 L595.6,179 L597.4,182.2 L610,177.1 L621.8,191.2"/>
<g transform="translate(612.6,171.4) rotate(52)"><rect x="-1" y="-1.6" width="2" height="1.6" class="t"/></g>
<path d="M597.4,182.2 A31.5,31.5 0 0 1 585.7,223"/>
<path d="M623.8,189.6 L680.7,149.7 M621.8,191.2 L624.8,193 L682.5,151.3 L696.3,166.5"/>
<g transform="translate(631.5,186.5) rotate(-35)"><rect x="-1.2" y="-2.4" width="2.4" height="4.8" class="t w"/></g>
<g transform="translate(653.6,170.8) rotate(-35)"><rect x="-1.2" y="-2.4" width="2.4" height="4.8" class="t w"/></g>
<path d="M659.6,158.8 L669.6,151.8" class="thick"/>
<path d="M621.8,191.2 L642,238.8 L597,259.6"/>
<path d="M631.7,213.8 L642,238.8" class="thick"/>
<path d="M588.3,233.4 L631.7,213.8"/>
<path d="M627.8,191 L648.8,235.3"/>
<g transform="translate(617.7,243.5) rotate(154.93)">
<ellipse cx="0" cy="-0.2" rx="7.6" ry="4.6"/>
<path d="M-13.8,-0.9 L13.8,-0.9 L12.6,1.6 L-12.6,1.6 Z" class="w"/>
<path d="M-4.5,-2 H4.5" class="t"/>
</g>
<g transform="translate(604.2,215.3) rotate(154.93)">
<path d="M-9.6,-8.4 H9.6 V1.5 Q9.6,5 6.5,5.3 Q0,6.3 -6.5,5.3 Q-9.6,5 -9.6,1.5 Z" class="w"/>
<path d="M-10,4.2 Q0,9.8 10,4.2 L9.2,6.6 Q0,11.2 -9.2,6.6 Z" class="w"/>
</g>
<text x="599.6" y="224.7" font-size="9.5" textLength="25.4" lengthAdjust="spacingAndGlyphs">ROOM</text>
<text x="602.4" y="235.5" font-size="9.5" textLength="19.4" lengthAdjust="spacingAndGlyphs" class="b">W 07</text>
<path d="M696.3,166.5 L677.5,180.3 L692.8,215 L648.8,235.3"/>
<path d="M643.8,201.5 L670,190.3 L681.3,215.3 L656.3,227.8 Z"/>
</g>
</g>
</svg>
</body></html>
